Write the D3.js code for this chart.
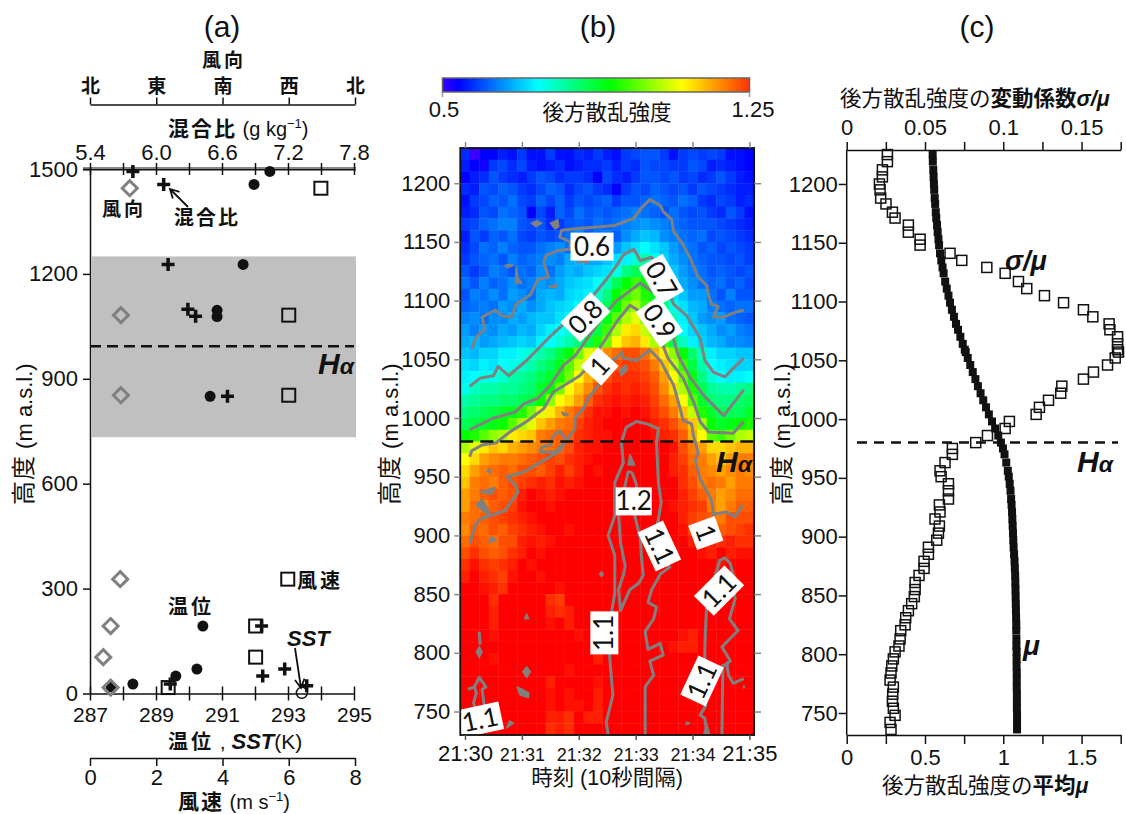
<!DOCTYPE html>
<html>
<head>
<meta charset="utf-8">
<script src="https://cdn.jsdelivr.net/npm/d3@7"></script>
<style>
  html, body { margin: 0; padding: 0; background: #fff; }
  svg { display: block; }
  text { font-family: "Liberation Sans", "Noto Sans CJK JP", sans-serif; fill: #111; }
</style>
</head>
<body>
<script>
const WIDTH = 1126;
const HEIGHT = 814;
const CONTOUR_GRAY = "#808080";

// ---------- panel (a) soundings ----------
const tempK = [292.45, 291.97, 291.64, 290.85, 290.85, 290.64, 290.42, 290.24, 289.6, 288.3, 287.64];
const tempHeight = [1493, 1456, 1227, 1096, 1078, 850, 193, 70, 50, 27, 19];
const mixRatio = [5.79, 6.07, 6.11, 6.29, 6.36, 6.65, 6.96, 7.17, 6.97, 7.37, 6.13];
const mixHeight = [1493, 1456, 1227, 1099, 1079, 850, 193, 70, 50, 22, 27];
const windSpeed = [6.97, 6.0, 6.0, 5.97, 5.0, 5.0, 2.36];
const windDir = [54, 42, 42, 41, 28, 18, 28];
const windHeight = [1445, 1082, 853, 327, 193, 104, 17];
const sstK = 293.42;
const sstHeight = 2;
const greyBand = [733, 1250];
const haA = 993;

const heightTicksA = [0, 300, 600, 900, 1200, 1500];
const tempTicks = [287, 288, 289, 290, 291, 292, 293, 294, 295];
const tempLabels = [287, 289, 291, 293, 295];
const mixTicks = [5.4, 5.7, 6.0, 6.3, 6.6, 6.9, 7.2, 7.5, 7.8];
const mixLabels = [5.4, 6.0, 6.6, 7.2, 7.8];
const speedTicks = [0, 2, 4, 6, 8];
const dirTicks = [0, 90, 180, 270, 360];
const dirNames = ["北", "東", "南", "西", "北"];

// ---------- panel (b) backscatter, row by row from 1225 m down to 735 m, one column per 10 s, x100 ----------
const backscatterGrid = [
  [57,50,54,54,56,55,58,55,55,58,55,55,57,56,58,56,55,58,59,60,60,58,55,58,59,58,59,58,55,55,54],
  [56,54,53,58,59,57,59,56,55,56,57,55,56,57,57,58,56,58,57,60,59,59,58,58,60,59,56,57,56,55,54],
  [54,56,57,60,58,57,56,58,60,59,57,58,58,57,54,59,57,56,58,60,60,59,60,58,59,57,58,60,58,56,55],
  [57,56,60,59,61,60,58,57,59,61,60,57,59,60,58,57,54,58,60,59,61,60,59,60,58,60,59,58,57,56,56],
  [55,58,59,61,60,62,59,58,61,59,61,58,60,59,60,61,58,60,60,61,62,61,60,62,61,58,57,59,58,56,57],
  [56,57,60,59,62,61,60,54,59,56,61,59,62,60,61,60,61,62,63,62,61,60,62,60,59,60,58,57,60,58,55],
  [58,59,61,62,63,63,60,59,60,57,58,60,61,60,62,61,62,63,64,65,64,63,62,61,60,60,60,59,58,57,56],
  [56,60,58,61,60,62,59,58,60,59,60,62,64,60,62,63,61,64,66,68,67,64,63,62,61,62,59,60,59,58,57],
  [57,59,62,61,63,61,60,60,62,63,64,62,66,65,64,66,65,68,70,72,70,68,65,63,62,60,61,59,60,59,58],
  [58,60,61,62,60,63,61,62,63,64,63,66,67,66,66,68,70,71,74,76,73,69,66,64,62,61,60,60,59,60,58],
  [60,58,60,63,62,60,62,61,64,62,65,67,66,68,69,70,73,78,80,80,77,71,68,65,63,62,60,61,60,59,60],
  [62,60,63,61,62,64,62,63,65,64,66,68,69,70,72,75,80,84,86,84,80,73,69,66,64,62,61,62,60,61,59],
  [60,63,62,64,62,65,64,62,66,67,66,69,70,71,74,78,84,86,88,85,83,75,70,68,65,65,62,60,63,60,60],
  [61,62,63,62,65,64,66,64,66,68,69,70,72,73,76,80,84,88,90,86,83,78,73,70,67,66,63,62,61,62,62],
  [63,64,62,64,64,66,65,67,68,68,70,71,73,76,79,83,87,90,92,88,86,81,75,71,68,65,64,65,62,61,60],
  [65,63,65,64,66,65,67,66,69,71,72,74,76,78,81,86,90,94,95,91,88,83,78,72,69,68,66,64,65,63,62],
  [66,67,65,66,67,68,69,68,71,72,74,76,78,81,85,88,93,96,97,94,90,86,80,75,71,69,67,66,64,64,63],
  [68,67,69,69,71,71,73,74,76,78,81,84,88,92,95,99,101,103,103,101,97,94,89,84,79,75,71,69,69,68,68],
  [70,69,71,70,72,73,74,76,78,80,83,87,91,95,98,101,103,104,104,103,100,96,91,86,81,76,72,71,70,69,69],
  [71,72,73,73,74,76,77,78,80,82,85,88,93,97,100,103,105,105,105,104,102,98,93,88,83,78,74,72,71,71,72],
  [73,75,76,76,77,77,78,79,82,84,88,93,96,99,103,105,106,105,106,105,103,99,95,90,85,80,77,76,76,77,78],
  [76,77,78,78,79,79,80,81,84,89,93,95,98,102,105,106,107,106,107,106,104,101,98,93,87,82,79,78,78,79,80],
  [78,79,80,81,82,83,85,88,92,94,97,100,102,105,107,107,108,107,108,107,105,103,100,96,91,85,82,80,80,80,82],
  [80,81,82,83,84,87,90,92,96,98,100,101,104,106,107,108,108,108,108,108,106,105,103,100,96,90,84,82,83,84,85],
  [84,85,87,89,90,94,95,96,100,101,102,102,105,106,107,107,108,108,108,108,107,106,105,102,97,93,87,86,88,90,91],
  [90,92,94,96,95,97,98,99,100,101,102,103,106,107,107,108,108,109,109,109,109,108,107,103,100,98,95,95,96,97,97],
  [93,95,98,99,100,100,101,102,103,104,103,105,106,107,108,109,109,110,110,110,110,108,106,104,101,100,98,96,98,100,100],
  [95,98,100,101,102,101,103,103,102,104,106,104,106,108,107,109,109,108,110,110,110,109,106,105,102,100,99,98,99,100,99],
  [96,100,101,100,102,103,104,105,106,105,107,106,107,108,109,110,110,111,110,110,111,110,108,105,103,100,101,100,98,100,100],
  [98,100,102,103,102,103,106,108,107,106,107,108,108,109,110,111,111,111,111,111,111,110,108,106,104,102,100,98,99,101,101],
  [98,101,100,102,103,104,107,108,108,107,108,108,109,110,110,111,111,111,111,111,111,110,107,106,105,104,100,98,100,102,102],
  [100,101,102,103,104,105,106,107,108,109,109,108,110,110,111,112,112,112,112,112,111,110,108,106,104,103,102,100,103,103,103],
  [99,102,101,103,102,104,105,106,107,108,108,107,109,110,111,112,112,112,112,112,112,110,109,107,104,105,103,102,103,104,105],
  [101,103,102,101,103,103,106,107,106,107,108,108,109,111,110,112,112,112,112,112,112,111,110,108,106,105,106,105,106,105,105],
  [103,105,103,102,103,105,106,108,107,109,108,109,110,110,111,112,112,112,112,112,112,111,110,109,108,107,106,108,106,107,107],
  [105,107,105,104,105,106,108,107,108,109,109,108,110,110,111,112,112,112,112,112,112,112,111,110,109,108,108,107,108,108,108],
  [106,108,106,105,104,107,108,109,107,108,108,109,110,109,111,112,112,112,112,112,112,112,111,110,110,110,108,109,107,108,109],
  [108,108,107,106,105,108,109,108,109,108,107,109,110,108,110,111,112,112,112,112,112,112,112,111,111,110,110,109,109,108,110],
  [108,109,110,105,110,111,111,110,108,105,104,108,110,111,111,112,112,112,112,112,112,112,112,112,108,110,111,111,111,108,108],
  [110,110,111,106,111,111,111,111,111,106,105,106,111,111,111,112,112,112,112,112,112,112,112,112,111,111,111,111,111,111,111],
  [111,111,111,106,111,111,111,111,111,107,108,106,111,111,111,112,112,112,112,112,112,112,112,112,112,111,111,111,111,111,111],
  [111,111,111,107,111,111,111,111,111,108,111,108,107,111,111,112,112,112,112,112,112,112,112,107,106,111,111,111,111,111,111],
  [111,111,111,111,111,111,111,111,111,108,111,109,108,111,107,112,112,112,112,112,112,112,107,106,106,108,111,111,111,111,111],
  [111,111,111,107,111,111,111,111,111,108,111,111,111,111,106,112,112,112,112,112,112,112,112,112,108,111,111,111,111,111,111],
  [111,111,111,111,111,111,111,111,111,108,111,107,111,111,111,112,112,112,112,112,112,112,112,112,112,111,111,111,111,111,111],
  [112,112,112,112,112,112,112,112,112,106,109,111,111,111,107,112,112,112,112,112,112,112,112,112,112,112,112,112,112,112,112],
  [112,112,112,112,112,112,112,112,112,107,110,107,108,111,106,112,112,112,112,112,112,112,112,112,112,112,112,112,112,112,112],
  [112,112,112,112,112,112,112,112,112,107,111,107,107,111,106,112,112,112,112,112,112,112,112,112,112,112,112,112,112,112,112],
  [112,112,112,112,112,112,112,112,112,106,106,105,111,106,106,112,112,112,112,112,112,112,112,112,112,112,112,112,112,112,112],
  [112,112,112,112,112,112,112,112,112,105,106,105,112,112,112,112,112,112,112,112,112,112,112,112,112,112,112,112,112,112,112]
];
const cellLevels = [50, 54, 72, 84, 93, 99, 108];
const cellColors = ["#3c00ff", "#0000ff", "#00ffff", "#00ff00", "#ffff00", "#ff8c00", "#ff0000"];
const barOffsets = [0, 0.05, 0.31, 0.546, 0.78, 1];
const barColors = ["#3c00ff", "#0000ff", "#00ffff", "#00ff00", "#ffff00", "#ff3200"];

// contour lines as [seconds after 21:30, metres]
const contour06 = [[7,1059],[12,1069],[21,1076],[18,1086],[32,1092],[39,1087],[49,1086],[54,1097],[69,1105],[77,1118],[88,1120],[83,1133],[86,1139],[100,1143],[111,1144],[111,1150],[100,1154],[102,1160],[114,1161],[158,1164],[178,1170],[185,1178],[195,1186],[206,1181],[209,1176],[218,1169],[220,1159],[229,1149],[237,1137],[246,1120],[255,1113],[257,1104],[260,1097],[267,1095],[262,1086],[273,1086],[285,1090],[294,1092]];
const contour07 = [[5,1027],[16,1034],[30,1036],[35,1044],[46,1036],[65,1049],[88,1068],[104,1080],[116,1090],[135,1104],[150,1119],[160,1130],[167,1139],[178,1144],[185,1134],[197,1137],[209,1120],[220,1097],[234,1087],[248,1068],[253,1049],[262,1039],[274,1035],[294,1051]];
const contour08 = [[5,990],[30,1000],[53,1005],[62,1012],[77,1017],[90,1028],[104,1045],[116,1053],[146,1087],[160,1100],[167,1104],[185,1115],[195,1109],[206,1104],[209,1095],[218,1073],[225,1053],[237,1035],[253,1018],[273,1002],[294,1024]];
const contour09 = [[5,967],[7,972],[18,977],[33,979],[47,988],[65,997],[83,1008],[93,1022],[107,1029],[121,1036],[130,1044],[144,1062],[160,1082],[174,1096],[192,1087],[206,1068],[214,1051],[230,1034],[241,1014],[248,997],[257,988],[283,987],[294,997]];
const contour10 = [[5,893],[11,909],[16,914],[42,921],[56,937],[53,943],[44,950],[62,954],[79,962],[100,972],[105,979],[107,981],[116,991],[116,1000],[125,1008],[130,1017],[142,1029],[144,1046],[160,1051],[165,1056],[167,1051],[181,1049],[195,1058],[206,1049],[220,1028],[227,1008],[230,998],[239,995],[241,985],[246,970],[243,964],[248,948],[260,930],[262,918],[276,920],[285,916],[293,926]];
const contour10Loop = [[93,985],[100,989],[107,981],[95,971],[79,971],[81,975],[90,977],[93,985]];
const contour11Centre = [[151,730],[149,741],[156,764],[153,792],[151,818],[158,851],[158,866],[158,883],[151,900],[158,917],[158,945],[167,962],[165,979],[170,992],[181,997],[192,995],[204,991],[202,979],[204,945],[207,928],[204,914],[202,906],[207,879],[216,873],[206,867],[197,854],[193,843],[202,839],[199,829],[190,818],[193,803],[206,808],[209,798],[195,793],[199,781],[190,771],[190,730]];
const contour12Tongue = [[176,954],[181,943],[179,917],[185,897],[186,883],[188,866],[183,859],[174,854],[164,836],[162,854],[167,866],[169,874],[164,894],[162,918],[172,954],[176,954]];
const contour11Right = [[255,732],[253,744],[248,747],[254,755],[253,764],[253,806],[255,843],[269,879],[274,881],[280,876],[283,866],[283,854],[285,846],[279,829],[288,819],[271,805],[280,793],[276,791],[278,781],[283,774],[294,778]];
const contour11RightB = [[271,730],[272,789],[278,791]];
const contour11LeftA = [[21,751],[20,757],[18,769],[22,771],[15,779],[10,771],[3,769]];
const contour11LeftB = [[10,771],[12,766],[9,757],[12,751]];
const contourThin = [[15,818],[16,807]];

const contourLines = [contour06, contour07, contour08, contour09, contour10, contour10Loop, contour11Centre,
  contour12Tongue, contour11Right, contour11RightB, contour11LeftA, contour11LeftB, contourThin];

const contourIslands = [
  [[70,1166],[76,1168],[81,1166],[75,1163]],
  [[90,1166],[98,1169],[99,1163],[95,1161]],
  [[42,1130],[47,1131],[51,1130],[45,1128]],
  [[54,1129],[56,1119],[60,1115],[53,1115]],
  [[118,1132],[123,1136],[130,1137],[131,1132],[121,1133]],
  [[88,1112],[97,1114],[97,1111]],
  [[163,1041],[170,1045],[171,1041],[165,1036]],
  [[102,1005],[109,1003],[104,1002]],
  [[23,955],[26,957],[27,953]],
  [[16,937],[32,941],[28,935]],
  [[12,926],[18,931],[26,920],[25,917],[14,924]],
  [[28,899],[33,896],[25,894]],
  [[174,969],[179,960],[172,960]],
  [[144,869],[146,867],[144,865],[142,867]],
  [[15,805],[18,801],[15,796],[12,801]],
  [[65,833],[67,829],[63,829]],
  [[65,788],[69,784],[65,779],[61,784]],
  [[55,771],[67,766],[67,762],[58,764]],
  [[47,742],[51,740],[44,736]],
  [[234,741],[237,740],[233,739]],
  [[294,772],[295,771],[294,770]],
  [[252,731],[255,739],[258,731]]
];

// contour labels: text, time, height, rotation
const contourLabelText = ["0.6", "0.7", "0.8", "0.9", "1", "1", "1.2", "1.1", "1.1", "1.1", "1.1", "1.1"];
const contourLabelTime = [134, 207, 127, 205, 142, 254, 178, 205, 147, 268, 250, 16];
const contourLabelHeight = [1146, 1118, 1086, 1082, 1044, 902, 929, 891, 817, 853, 776, 743];
const contourLabelAngle = [0, 60, -45, 55, -48, 70, 0, 65, -90, -45, -65, -12];

const heightTicksB = [750, 800, 850, 900, 950, 1000, 1050, 1100, 1150, 1200];
const timeTicks = [0, 60, 120, 180, 240, 300];
const timeNames = ["21:30", "21:31", "21:32", "21:33", "21:34", "21:35"];
const timeSizes = [22, 18, 18, 18, 18, 22];
const haB = 980;

// ---------- panel (c) profiles ----------
const profileHeight = [
  1225,1219,1212,1206,1200,1195,1188,1183,1176,1171,
  1165,1159,1153,1148,1141,1135,1129,1124,1117,1111,
  1105,1099,1093,1087,1081,1076,1070,1064,1059,1057,
  1052,1046,1040,1034,1028,1022,1016,1010,1004,998,
  992,986,980,975,970,963,956,951,945,939,
  932,927,921,915,909,903,897,891,885,879,
  873,867,861,855,849,843,837,831,825,820,
  813,807,802,796,790,784,778,772,766,760,
  754,748,742,736];
const sigmaOverMu = [
  .026,.026,.0228,.0228,.0209,.0213,.0217,.0251,.0292,.0309,
  .0394,.0394,.0469,.0469,.066,.0735,.0895,.1012,.1097,.115,
  .1263,.1385,.1512,.1572,.1676,.1681,.173,.173,.173,.1736,
  .1715,.1666,.1576,.1512,.1374,.1367,.1289,.1231,.121,.1039,
  .1012,.0899,.0824,.0675,.0675,.0628,.0596,.0603,.065,.065,
  .065,.0592,.0596,.0564,.0592,.0586,.0575,.0522,.0522,.0494,
  .0494,.0462,.0437,.0437,.0432,.0415,.0394,.0377,.0373,.0345,
  .0341,.0334,.0309,.0298,.0288,.0283,.0277,.0298,.0294,.0292,
  .0298,.0309,.0277,.0283];
const meanMu = [
  .549,.550,.553,.555,.557,.559,.562,.565,.569,.572,
  .577,.581,.586,.590,.596,.604,.612,.619,.629,.639,
  .650,.660,.672,.685,.698,.711,.726,.741,.754,.760,
  .773,.789,.805,.822,.838,.855,.872,.890,.908,.928,
  .948,.968,.985,.998,1.008,1.019,1.029,1.035,1.041,1.046,
  1.050,1.053,1.056,1.058,1.060,1.062,1.064,1.066,1.069,1.072,
  1.074,1.076,1.077,1.078,1.079,1.080,1.081,1.082,1.083,1.083,
  1.084,1.084,1.085,1.085,1.085,1.086,1.086,1.086,1.087,1.087,
  1.087,1.088,1.088,1.088];
const sigmaTicks = [0, 0.025, 0.05, 0.075, 0.1, 0.125, 0.15, 0.175];
const sigmaLabels = [0, 0.05, 0.1, 0.15];
const muTicks = [0, 0.25, 0.5, 0.75, 1, 1.25, 1.5, 1.75];
const muLabels = [0, 0.5, 1, 1.5];
const haC = 980;

//the SVG
const svg = d3.select("body").append("svg").attr("width", WIDTH).attr("height", HEIGHT);

//the scales
const yA = d3.scaleLinear().domain([0, 1500]).range([693.5, 169]);
const xTemp = d3.scaleLinear().domain([287, 295]).range([90, 354]);
const xMix = d3.scaleLinear().domain([5.4, 7.8]).range([90, 354]);
const xSpeed = d3.scaleLinear().domain([0, 8]).range([90, 355]);
const xDir = d3.scaleLinear().domain([0, 360]).range([90, 355]);

const xB = d3.scaleLinear().domain([0, 300]).range([465, 749.4]);
const yB = d3.scaleLinear().domain([730, 1230]).range([735, 148]);
const cellColor = d3.scaleLinear().domain(cellLevels).range(cellColors).clamp(true);

const xSigma = d3.scaleLinear().domain([0, 0.175]).range([846.7, 1120.7]);
const xMu = d3.scaleLinear().domain([0, 1.75]).range([846.7, 1120.7]);
const yC = d3.scaleLinear().domain([730, 1230]).range([736.5, 148.7]);

//text made of pieces: [string, style, size, dy, spacing] where style is "", "b", "bi"
const addText = (x, y, anchor, size, parts, rotate) => {
  const t = svg.append("text")
    .attr("x", x).attr("y", y)
    .attr("text-anchor", anchor)
    .attr("font-size", size);
  if (rotate) t.attr("transform", `rotate(${rotate} ${x} ${y})`);
  parts.forEach(p => {
    const s = t.append("tspan").text(p[0]);
    if (p[1] && p[1].includes("b")) s.attr("font-weight", "bold");
    if (p[1] && p[1].includes("i")) s.attr("font-style", "italic");
    if (p[2]) s.attr("font-size", p[2]);
    if (p[3]) s.attr("dy", p[3]);
    if (p[4]) s.attr("letter-spacing", p[4]);
  });
  return t;
};

//an axis with the usual look
const setAxis = (axis, transform, size, colour, width) => {
  const g = svg.append("g").attr("transform", transform).call(axis);
  g.attr("font-family", null);
  g.selectAll("text").attr("font-size", size);
  g.selectAll("line").attr("stroke", colour || "#111").attr("stroke-width", width || 1.5);
  g.select(".domain").attr("stroke", colour || "#111").attr("stroke-width", width || 1.5);
  return g;
};

//an open-headed arrow
const addArrow = (x1, y1, x2, y2) => {
  const a = Math.atan2(y2 - y1, x2 - x1);
  const h = 10;
  const p = d3.path();
  p.moveTo(x1, y1); p.lineTo(x2, y2);
  p.moveTo(x2 - h * Math.cos(a - 0.5), y2 - h * Math.sin(a - 0.5));
  p.lineTo(x2, y2);
  p.lineTo(x2 - h * Math.cos(a + 0.5), y2 - h * Math.sin(a + 0.5));
  svg.append("path").attr("d", p.toString()).attr("fill", "none").attr("stroke", "#111").attr("stroke-width", 1.8);
};

const addHa = (x, y) => addText(x, y, "start", 30, [["H", "bi"], ["α", "bi", 23]]);

const plainNumber = d3.format("d");

//panel (a)
const renderPanelA = () => {
  addText(222, 37, "middle", 30, [["(a)", ""]]);

  svg.append("rect")
    .attr("x", xTemp(287) + 2).attr("width", xTemp(295) - xTemp(287))
    .attr("y", yA(greyBand[1])).attr("height", yA(greyBand[0]) - yA(greyBand[1]))
    .attr("fill", "#c0c0c0");

  // wind direction axis
  const dirAxis = setAxis(d3.axisTop(xDir).tickValues(dirTicks).tickSize(7).tickSizeOuter(0).tickPadding(5)
    .tickFormat((d, i) => dirNames[i]), "translate(0,104.5)", 19);
  dirAxis.selectAll("text").attr("font-weight", "bold");
  addText(224, 67, "middle", 19, [["風向", "b", null, null, 3]]);

  // mixing ratio axis, the double line at the top
  svg.append("line").attr("x1", 83).attr("x2", 356).attr("y1", 169).attr("y2", 169)
    .attr("stroke", "#8a8a8a").attr("stroke-width", 4);
  const mixAxis = d3.axisTop(xMix).tickValues(mixTicks).tickSize(6).tickSizeOuter(0).tickPadding(3)
    .tickFormat(d => mixLabels.includes(d) ? d.toFixed(1) : "");
  const mixG = setAxis(mixAxis, "translate(0,169)", 22);
  mixG.selectAll("line").attr("y2", 6).attr("y1", -6);
  mixG.select(".domain").attr("stroke-width", 1);
  addText(168, 136, "start", 21, [["混合比", "b", null, null, 2], [" (g kg", "", 20], ["−1", "", 13, "-0.6em"], [")", "", 20, "0.4em"]]);

  // height axis
  setAxis(d3.axisLeft(yA).tickValues(heightTicksA).tickSize(7).tickSizeOuter(0).tickPadding(5).tickFormat(plainNumber),
    "translate(90,0)", 22);
  addText(32, 505, "start", 24, [["高度", "", null, null, 1], [" (m a.s.l.)", "", 22]], -90);

  // temperature axis
  const tempG = setAxis(d3.axisBottom(xTemp).tickValues(tempTicks).tickSize(7).tickSizeOuter(0).tickPadding(7)
    .tickFormat(d => tempLabels.includes(d) ? d : ""), "translate(0,693.5)", 21);
  tempG.selectAll("line").attr("y1", -7);
  addText(168, 749, "start", 20, [["温位", "b", null, null, 3], [" , ", "", 21], ["SST", "bi", 22], ["(K)", "", 21]]);

  // wind speed axis
  setAxis(d3.axisBottom(xSpeed).tickValues(speedTicks).tickSize(8).tickSizeOuter(0).tickPadding(3), "translate(0,758)", 22);
  addText(178, 809, "start", 21, [["風速", "b", null, null, 2], [" (m s", "", 20], ["−1", "", 13, "-0.6em"], [")", "", 20, "0.4em"]]);

  // dashed H alpha line
  svg.append("line").attr("x1", 90).attr("x2", 354).attr("y1", yA(haA)).attr("y2", yA(haA))
    .attr("stroke", "#111").attr("stroke-width", 2.5).attr("stroke-dasharray", "11 6");
  addHa(318, 374);

  // temperature
  svg.selectAll(".temp").data(tempK).enter().append("circle")
    .attr("cx", d => xTemp(d)).attr("cy", (d, i) => yA(tempHeight[i])).attr("r", 5.5).attr("fill", "#111");
  // mixing ratio
  svg.selectAll(".mix").data(mixRatio).enter().append("path")
    .attr("d", "M-6.5 0H6.5M0 -6.5V6.5")
    .attr("transform", (d, i) => `translate(${xMix(d)},${yA(mixHeight[i])})`)
    .attr("stroke", "#111").attr("stroke-width", 3.5).attr("fill", "none");
  // wind speed
  svg.selectAll(".speed").data(windSpeed).enter().append("rect")
    .attr("x", d => xSpeed(d) - 6.5).attr("y", (d, i) => yA(windHeight[i]) - 6.5)
    .attr("width", 13).attr("height", 13)
    .attr("fill", "none").attr("stroke", "#111").attr("stroke-width", 2);
  // wind direction
  svg.selectAll(".dir").data(windDir).enter().append("path")
    .attr("d", "M0 -7.5L7.5 0L0 7.5L-7.5 0Z")
    .attr("transform", (d, i) => `translate(${xDir(d)},${yA(windHeight[i])})`)
    .attr("stroke", "#808080").attr("stroke-width", 3).attr("fill", "none");
  // sea surface temperature
  svg.append("circle").attr("cx", xTemp(sstK)).attr("cy", yA(sstHeight)).attr("r", 5.5)
    .attr("fill", "none").attr("stroke", "#111").attr("stroke-width", 1.5);

  addText(124, 216, "middle", 19, [["風向", "b", null, null, 3]]);
  addText(174, 225, "start", 20, [["混合比", "b", null, null, 2]]);
  addArrow(188, 207, 170, 189);
  addText(297, 588, "start", 20, [["風速", "b", null, null, 3]]);
  addText(168, 614, "start", 20, [["温位", "b", null, null, 3]]);
  addText(287, 646, "start", 22, [["SST", "bi"]]);
  addArrow(295, 648, 301, 688);
};

//panel (b)
const renderPanelB = () => {
  addText(598, 37, "middle", 30, [["(b)", ""]]);

  // colour bar
  const grad = svg.append("defs").append("linearGradient").attr("id", "bar");
  barOffsets.forEach((o, i) => grad.append("stop").attr("offset", o).attr("stop-color", barColors[i]));
  svg.append("rect").attr("x", 442.5).attr("y", 78).attr("width", 307).attr("height", 14)
    .attr("fill", "url(#bar)").attr("stroke", "#666").attr("stroke-width", 1.5);
  svg.append("path").attr("d", "M442.5 92V97M749.5 92V97").attr("stroke", "#999").attr("stroke-width", 1.5);
  addText(444, 117, "middle", 22, [["0.5", ""]]);
  addText(753, 117, "middle", 22, [["1.25", ""]]);
  addText(607, 120, "middle", 21.5, [["後方散乱強度", ""]]);

  // the cells
  const cellW = xB(10) - xB(0);
  backscatterGrid.forEach((row, r) => {
    const h = 1225 - r * 10;
    svg.append("g").selectAll("rect").data(row).enter().append("rect")
      .attr("x", (d, c) => xB(c * 10 - 5))
      .attr("y", yB(h + 5))
      .attr("width", cellW + 0.4)
      .attr("height", yB(h - 5) - yB(h + 5) + 0.4)
      .attr("fill", d => cellColor(d));
  });

  // the contours
  svg.append("clipPath").attr("id", "plotB").append("rect")
    .attr("x", xB(-5)).attr("y", yB(1230)).attr("width", xB(305) - xB(-5)).attr("height", yB(730) - yB(1230));
  const contourG = svg.append("g").attr("clip-path", "url(#plotB)");
  const line = d3.line().x(d => xB(d[0])).y(d => yB(d[1]));
  contourG.selectAll(".line").data(contourLines).enter().append("path")
    .attr("d", line).attr("fill", "none").attr("stroke", CONTOUR_GRAY)
    .attr("stroke-width", 3).attr("stroke-linejoin", "round");
  contourG.selectAll(".island").data(contourIslands).enter().append("path")
    .attr("d", d => line(d) + "Z").attr("fill", CONTOUR_GRAY).attr("stroke", CONTOUR_GRAY)
    .attr("stroke-width", 1.5).attr("stroke-linejoin", "round");

  // contour labels
  contourLabelText.forEach((t, i) => {
    const g = svg.append("g")
      .attr("transform", `translate(${xB(contourLabelTime[i])},${yB(contourLabelHeight[i])}) rotate(${contourLabelAngle[i]})`);
    const w = t.length === 1 ? 20 : (i === 6 ? 30 : 37);
    g.append("rect").attr("x", -w / 2 - 3).attr("y", -14).attr("width", w + 6).attr("height", 28).attr("fill", "#fff");
    g.append("text").attr("text-anchor", "middle").attr("y", 9).attr("font-size", 26)
      .style("font-family", "Lato").text(t);
  });

  // frame and outer ticks
  svg.append("rect").attr("x", xB(-5)).attr("y", yB(1230)).attr("width", xB(305) - xB(-5)).attr("height", yB(730) - yB(1230))
    .attr("fill", "none").attr("stroke", "#111").attr("stroke-width", 1.8);

  const rightB = setAxis(d3.axisRight(yB).tickValues(heightTicksB).tickSize(7).tickSizeOuter(0).tickFormat(""),
    `translate(${xB(305)},0)`, 20, "#888");
  rightB.select(".domain").remove();
  const leftB = setAxis(d3.axisLeft(yB).tickValues(heightTicksB).tickSize(6).tickSizeOuter(0).tickPadding(4).tickFormat(plainNumber),
    `translate(${xB(-5)},0)`, 22, "#888");
  leftB.select(".domain").remove();
  const topB = setAxis(d3.axisTop(xB).tickValues(timeTicks).tickSize(6).tickSizeOuter(0).tickFormat(""),
    `translate(0,${yB(1230)})`, 20, "#888");
  topB.select(".domain").remove();
  const bottomB = setAxis(d3.axisBottom(xB).tickValues(timeTicks).tickSize(5).tickSizeOuter(0)
    .tickFormat((d, i) => timeNames[i]), `translate(0,${yB(730)})`, 18, "#555");
  bottomB.select(".domain").remove();
  bottomB.selectAll("text").attr("font-size", (d, i) => timeSizes[i]).attr("y", 26).attr("dy", 0);

  addText(398, 505, "start", 24, [["高度", "", null, null, 1], [" (m a.s.l.)", "", 22]], -90);
  addText(607, 785, "middle", 21.5, [["時刻 (10秒間隔)", ""]]);

  // dashed H alpha line
  svg.append("line").attr("x1", xB(-5)).attr("x2", xB(305)).attr("y1", yB(haB)).attr("y2", yB(haB))
    .attr("stroke", "#111").attr("stroke-width", 2.5).attr("stroke-dasharray", "13 7");
  addHa(716, 472);
};

//panel (c)
const renderPanelC = () => {
  addText(977, 37, "middle", 30, [["(c)", ""]]);
  addText(840, 106, "start", 21.5, [["後方散乱強度の", ""], ["変動係数", "b"], ["σ/μ", "bi"]]);

  setAxis(d3.axisTop(xSigma).tickValues(sigmaTicks).tickSize(8).tickSizeOuter(0).tickPadding(7)
    .tickFormat(d => sigmaLabels.includes(d) ? d : ""), "translate(0,150)", 22);
  setAxis(d3.axisBottom(xMu).tickValues(muTicks).tickSize(9).tickSizeOuter(0).tickPadding(5)
    .tickFormat(d => muLabels.includes(d) ? d : ""), "translate(0,735)", 22);
  const leftC = setAxis(d3.axisLeft(yC).tickValues(heightTicksB).tickSize(8).tickSizeOuter(0).tickPadding(1).tickFormat(plainNumber),
    "translate(846.7,0)", 22);
  leftC.select(".domain").attr("d", `M0,150V735`);

  addText(790, 505, "start", 24, [["高度", "", null, null, 1], [" (m a.s.l.)", "", 22]], -90);
  addText(882, 793, "start", 21.5, [["後方散乱強度の", ""], ["平均", "b"], ["μ", "bi"]]);

  // dashed H alpha line
  svg.append("line").attr("x1", 857).attr("x2", 1118).attr("y1", yC(haC)).attr("y2", yC(haC))
    .attr("stroke", "#111").attr("stroke-width", 2.5).attr("stroke-dasharray", "10 7");

  // sigma / mu
  svg.selectAll(".sigma").data(sigmaOverMu).enter().append("rect")
    .attr("x", d => xSigma(d) - 5).attr("y", (d, i) => yC(profileHeight[i]) - 5)
    .attr("width", 10).attr("height", 10)
    .attr("fill", "none").attr("stroke", "#111").attr("stroke-width", 1.5);
  // mean
  svg.selectAll(".mu").data(meanMu).enter().append("rect")
    .attr("x", d => xMu(d) - 4).attr("y", (d, i) => yC(profileHeight[i]) - 4)
    .attr("width", 8).attr("height", 8).attr("fill", "#111");

  addText(1005, 270, "start", 27, [["σ/μ", "bi"]]);
  addText(1023, 655, "start", 28, [["μ", "bi"]]);
  addHa(1077, 472);
};

//render everything
const rend = () => {
  renderPanelA();
  renderPanelB();
  renderPanelC();
};

document.addEventListener("DOMContentLoaded", rend());
</script>
</body>
</html>
